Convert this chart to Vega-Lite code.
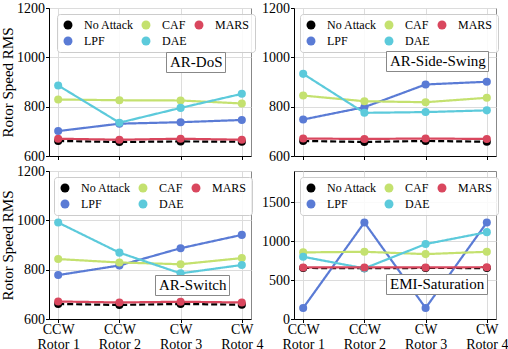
{
  "$schema": "https://vega.github.io/schema/vega-lite/v6.json",
  "padding": {"left": 0, "top": 0, "right": 0, "bottom": 0},
  "config": {
    "font": "Liberation Serif, Times New Roman, serif",
    "view": {"stroke": "#888888", "strokeWidth": 1},
    "axis": {"labelFont": "Liberation Serif, Times New Roman, serif", "titleFont": "Liberation Serif, Times New Roman, serif", "domainColor": "#000000", "tickColor": "#000000", "gridColor": "#dcdcdc", "gridWidth": 1, "labelFontSize": 14, "labelColor": "#000000", "titleFontSize": 15, "titleFontWeight": "normal", "titleColor": "#000000", "tickSize": 3.5, "labelPadding": 1, "titlePadding": 1},
    "legend": {"labelFont": "Liberation Serif, Times New Roman, serif", "titleFont": "Liberation Serif, Times New Roman, serif"}
  },
  "data": {"values": [
    {"panel": "AR-DoS", "rotor": "CCW Rotor 1", "series": "No Attack", "rms": 661},
    {"panel": "AR-DoS", "rotor": "CCW Rotor 2", "series": "No Attack", "rms": 657},
    {"panel": "AR-DoS", "rotor": "CW Rotor 3", "series": "No Attack", "rms": 659},
    {"panel": "AR-DoS", "rotor": "CW Rotor 4", "series": "No Attack", "rms": 658},
    {"panel": "AR-DoS", "rotor": "CCW Rotor 1", "series": "LPF", "rms": 701},
    {"panel": "AR-DoS", "rotor": "CCW Rotor 2", "series": "LPF", "rms": 731},
    {"panel": "AR-DoS", "rotor": "CW Rotor 3", "series": "LPF", "rms": 737},
    {"panel": "AR-DoS", "rotor": "CW Rotor 4", "series": "LPF", "rms": 746},
    {"panel": "AR-DoS", "rotor": "CCW Rotor 1", "series": "CAF", "rms": 829},
    {"panel": "AR-DoS", "rotor": "CCW Rotor 2", "series": "CAF", "rms": 826},
    {"panel": "AR-DoS", "rotor": "CW Rotor 3", "series": "CAF", "rms": 825},
    {"panel": "AR-DoS", "rotor": "CW Rotor 4", "series": "CAF", "rms": 813},
    {"panel": "AR-DoS", "rotor": "CCW Rotor 1", "series": "DAE", "rms": 886},
    {"panel": "AR-DoS", "rotor": "CCW Rotor 2", "series": "DAE", "rms": 735},
    {"panel": "AR-DoS", "rotor": "CW Rotor 3", "series": "DAE", "rms": 795},
    {"panel": "AR-DoS", "rotor": "CW Rotor 4", "series": "DAE", "rms": 852},
    {"panel": "AR-DoS", "rotor": "CCW Rotor 1", "series": "MARS", "rms": 670},
    {"panel": "AR-DoS", "rotor": "CCW Rotor 2", "series": "MARS", "rms": 666},
    {"panel": "AR-DoS", "rotor": "CW Rotor 3", "series": "MARS", "rms": 670},
    {"panel": "AR-DoS", "rotor": "CW Rotor 4", "series": "MARS", "rms": 666},

    {"panel": "AR-Side-Swing", "rotor": "CCW Rotor 1", "series": "No Attack", "rms": 661},
    {"panel": "AR-Side-Swing", "rotor": "CCW Rotor 2", "series": "No Attack", "rms": 657},
    {"panel": "AR-Side-Swing", "rotor": "CW Rotor 3", "series": "No Attack", "rms": 661},
    {"panel": "AR-Side-Swing", "rotor": "CW Rotor 4", "series": "No Attack", "rms": 658},
    {"panel": "AR-Side-Swing", "rotor": "CCW Rotor 1", "series": "LPF", "rms": 748},
    {"panel": "AR-Side-Swing", "rotor": "CCW Rotor 2", "series": "LPF", "rms": 798},
    {"panel": "AR-Side-Swing", "rotor": "CW Rotor 3", "series": "LPF", "rms": 890},
    {"panel": "AR-Side-Swing", "rotor": "CW Rotor 4", "series": "LPF", "rms": 901},
    {"panel": "AR-Side-Swing", "rotor": "CCW Rotor 1", "series": "CAF", "rms": 845},
    {"panel": "AR-Side-Swing", "rotor": "CCW Rotor 2", "series": "CAF", "rms": 822},
    {"panel": "AR-Side-Swing", "rotor": "CW Rotor 3", "series": "CAF", "rms": 818},
    {"panel": "AR-Side-Swing", "rotor": "CW Rotor 4", "series": "CAF", "rms": 836},
    {"panel": "AR-Side-Swing", "rotor": "CCW Rotor 1", "series": "DAE", "rms": 933},
    {"panel": "AR-Side-Swing", "rotor": "CCW Rotor 2", "series": "DAE", "rms": 775},
    {"panel": "AR-Side-Swing", "rotor": "CW Rotor 3", "series": "DAE", "rms": 778},
    {"panel": "AR-Side-Swing", "rotor": "CW Rotor 4", "series": "DAE", "rms": 785},
    {"panel": "AR-Side-Swing", "rotor": "CCW Rotor 1", "series": "MARS", "rms": 671},
    {"panel": "AR-Side-Swing", "rotor": "CCW Rotor 2", "series": "MARS", "rms": 669},
    {"panel": "AR-Side-Swing", "rotor": "CW Rotor 3", "series": "MARS", "rms": 671},
    {"panel": "AR-Side-Swing", "rotor": "CW Rotor 4", "series": "MARS", "rms": 669},

    {"panel": "AR-Switch", "rotor": "CCW Rotor 1", "series": "No Attack", "rms": 661},
    {"panel": "AR-Switch", "rotor": "CCW Rotor 2", "series": "No Attack", "rms": 657},
    {"panel": "AR-Switch", "rotor": "CW Rotor 3", "series": "No Attack", "rms": 661},
    {"panel": "AR-Switch", "rotor": "CW Rotor 4", "series": "No Attack", "rms": 658},
    {"panel": "AR-Switch", "rotor": "CCW Rotor 1", "series": "LPF", "rms": 778},
    {"panel": "AR-Switch", "rotor": "CCW Rotor 2", "series": "LPF", "rms": 817},
    {"panel": "AR-Switch", "rotor": "CW Rotor 3", "series": "LPF", "rms": 887},
    {"panel": "AR-Switch", "rotor": "CW Rotor 4", "series": "LPF", "rms": 941},
    {"panel": "AR-Switch", "rotor": "CCW Rotor 1", "series": "CAF", "rms": 843},
    {"panel": "AR-Switch", "rotor": "CCW Rotor 2", "series": "CAF", "rms": 829},
    {"panel": "AR-Switch", "rotor": "CW Rotor 3", "series": "CAF", "rms": 822},
    {"panel": "AR-Switch", "rotor": "CW Rotor 4", "series": "CAF", "rms": 847},
    {"panel": "AR-Switch", "rotor": "CCW Rotor 1", "series": "DAE", "rms": 991},
    {"panel": "AR-Switch", "rotor": "CCW Rotor 2", "series": "DAE", "rms": 869},
    {"panel": "AR-Switch", "rotor": "CW Rotor 3", "series": "DAE", "rms": 785},
    {"panel": "AR-Switch", "rotor": "CW Rotor 4", "series": "DAE", "rms": 819},
    {"panel": "AR-Switch", "rotor": "CCW Rotor 1", "series": "MARS", "rms": 671},
    {"panel": "AR-Switch", "rotor": "CCW Rotor 2", "series": "MARS", "rms": 667},
    {"panel": "AR-Switch", "rotor": "CW Rotor 3", "series": "MARS", "rms": 670},
    {"panel": "AR-Switch", "rotor": "CW Rotor 4", "series": "MARS", "rms": 667},

    {"panel": "EMI-Saturation", "rotor": "CCW Rotor 1", "series": "No Attack", "rms": 655},
    {"panel": "EMI-Saturation", "rotor": "CCW Rotor 2", "series": "No Attack", "rms": 652},
    {"panel": "EMI-Saturation", "rotor": "CW Rotor 3", "series": "No Attack", "rms": 655},
    {"panel": "EMI-Saturation", "rotor": "CW Rotor 4", "series": "No Attack", "rms": 654},
    {"panel": "EMI-Saturation", "rotor": "CCW Rotor 1", "series": "LPF", "rms": 141},
    {"panel": "EMI-Saturation", "rotor": "CCW Rotor 2", "series": "LPF", "rms": 1239},
    {"panel": "EMI-Saturation", "rotor": "CW Rotor 3", "series": "LPF", "rms": 141},
    {"panel": "EMI-Saturation", "rotor": "CW Rotor 4", "series": "LPF", "rms": 1239},
    {"panel": "EMI-Saturation", "rotor": "CCW Rotor 1", "series": "CAF", "rms": 855},
    {"panel": "EMI-Saturation", "rotor": "CCW Rotor 2", "series": "CAF", "rms": 863},
    {"panel": "EMI-Saturation", "rotor": "CW Rotor 3", "series": "CAF", "rms": 833},
    {"panel": "EMI-Saturation", "rotor": "CW Rotor 4", "series": "CAF", "rms": 863},
    {"panel": "EMI-Saturation", "rotor": "CCW Rotor 1", "series": "DAE", "rms": 799},
    {"panel": "EMI-Saturation", "rotor": "CCW Rotor 2", "series": "DAE", "rms": 650},
    {"panel": "EMI-Saturation", "rotor": "CW Rotor 3", "series": "DAE", "rms": 962},
    {"panel": "EMI-Saturation", "rotor": "CW Rotor 4", "series": "DAE", "rms": 1115},
    {"panel": "EMI-Saturation", "rotor": "CCW Rotor 1", "series": "MARS", "rms": 662},
    {"panel": "EMI-Saturation", "rotor": "CCW Rotor 2", "series": "MARS", "rms": 662},
    {"panel": "EMI-Saturation", "rotor": "CW Rotor 3", "series": "MARS", "rms": 662},
    {"panel": "EMI-Saturation", "rotor": "CW Rotor 4", "series": "MARS", "rms": 665}
  ]},
  "columns": 2,
  "bounds": "flush",
  "spacing": {"row": 15, "column": 43},
  "resolve": {
    "scale": {"x": "independent", "y": "independent", "color": "independent", "stroke": "independent", "strokeDash": "independent", "shape": "independent"},
    "legend": {"color": "independent", "shape": "independent"}
  },
  "concat": [
    {
      "width": 202, "height": 148,
      "transform": [{"filter": "datum.panel === 'AR-DoS'"}],
      "encoding": {
        "x": {"field": "rotor", "type": "ordinal", "scale": {"type": "point", "padding": 0.15, "domain": ["CCW Rotor 1", "CCW Rotor 2", "CW Rotor 3", "CW Rotor 4"]}, "axis": {"title": null, "labels": false, "grid": true}},
        "y": {"field": "rms", "type": "quantitative", "scale": {"domain": [600, 1200], "nice": false, "zero": false}, "axis": {"title": "Rotor Speed RMS", "values": [600, 800, 1000, 1200], "format": "d", "grid": true}}
      },
      "layer": [
        {"mark": {"type": "line", "strokeWidth": 2.2}, "encoding": {
          "stroke": {"field": "series", "type": "nominal", "scale": {"domain": ["MARS", "DAE", "CAF", "LPF", "No Attack"], "range": ["#d9475e", "#5ccadb", "#c4e16f", "#5a7bd5", "#000000"]}, "legend": null},
          "strokeDash": {"field": "series", "type": "nominal", "scale": {"domain": ["MARS", "DAE", "CAF", "LPF", "No Attack"], "range": [[1, 0], [1, 0], [1, 0], [1, 0], [6, 3]]}, "legend": null}}},
        {"mark": {"type": "point", "filled": true, "size": 65, "opacity": 1}, "encoding": {"color": {"field": "series", "type": "nominal", "scale": {"domain": ["No Attack", "LPF", "CAF", "DAE", "MARS"], "range": ["#000000", "#5a7bd5", "#c4e16f", "#5ccadb", "#d9475e"]}, "legend": {"title": null, "orient": "none", "legendX": 8, "legendY": 6, "columns": 3, "symbolType": "circle", "symbolSize": 80, "symbolStrokeWidth": 0, "labelFontSize": 12, "labelColor": "#000000", "labelOffset": 10, "columnPadding": 6, "rowPadding": 4, "padding": 5, "strokeColor": "#cccccc", "fillColor": "rgba(255,255,255,0.85)", "cornerRadius": 3}}}},
        {"mark": {"type": "point", "opacity": 0}, "encoding": {"shape": {"field": "panel", "type": "nominal", "legend": {"title": null, "orient": "none", "legendX": 117, "legendY": 44, "symbolSize": 1, "symbolOpacity": 0, "symbolStrokeWidth": 0, "labelOffset": -13, "labelFontSize": 15, "labelColor": "#000000", "padding": 2, "strokeColor": "#888888", "fillColor": "#ffffff", "cornerRadius": 0}}}}
      ]
    },
    {
      "width": 202, "height": 148,
      "transform": [{"filter": "datum.panel === 'AR-Side-Swing'"}],
      "encoding": {
        "x": {"field": "rotor", "type": "ordinal", "scale": {"type": "point", "padding": 0.15, "domain": ["CCW Rotor 1", "CCW Rotor 2", "CW Rotor 3", "CW Rotor 4"]}, "axis": {"title": null, "labels": false, "grid": true}},
        "y": {"field": "rms", "type": "quantitative", "scale": {"domain": [600, 1200], "nice": false, "zero": false}, "axis": {"title": null, "values": [600, 800, 1000, 1200], "format": "d", "grid": true}}
      },
      "layer": [
        {"mark": {"type": "line", "strokeWidth": 2.2}, "encoding": {
          "stroke": {"field": "series", "type": "nominal", "scale": {"domain": ["MARS", "DAE", "CAF", "LPF", "No Attack"], "range": ["#d9475e", "#5ccadb", "#c4e16f", "#5a7bd5", "#000000"]}, "legend": null},
          "strokeDash": {"field": "series", "type": "nominal", "scale": {"domain": ["MARS", "DAE", "CAF", "LPF", "No Attack"], "range": [[1, 0], [1, 0], [1, 0], [1, 0], [6, 3]]}, "legend": null}}},
        {"mark": {"type": "point", "filled": true, "size": 65, "opacity": 1}, "encoding": {"color": {"field": "series", "type": "nominal", "scale": {"domain": ["No Attack", "LPF", "CAF", "DAE", "MARS"], "range": ["#000000", "#5a7bd5", "#c4e16f", "#5ccadb", "#d9475e"]}, "legend": {"title": null, "orient": "none", "legendX": 6, "legendY": 6, "columns": 3, "symbolType": "circle", "symbolSize": 80, "symbolStrokeWidth": 0, "labelFontSize": 12, "labelColor": "#000000", "labelOffset": 10, "columnPadding": 6, "rowPadding": 4, "padding": 5, "strokeColor": "#cccccc", "fillColor": "rgba(255,255,255,0.85)", "cornerRadius": 3}}}},
        {"mark": {"type": "point", "opacity": 0}, "encoding": {"shape": {"field": "panel", "type": "nominal", "legend": {"title": null, "orient": "none", "legendX": 92, "legendY": 43, "symbolSize": 1, "symbolOpacity": 0, "symbolStrokeWidth": 0, "labelOffset": -13, "labelFontSize": 15, "labelColor": "#000000", "padding": 2, "strokeColor": "#888888", "fillColor": "#ffffff", "cornerRadius": 0}}}}
      ]
    },
    {
      "width": 202, "height": 148,
      "transform": [{"filter": "datum.panel === 'AR-Switch'"}],
      "encoding": {
        "x": {"field": "rotor", "type": "ordinal", "scale": {"type": "point", "padding": 0.15, "domain": ["CCW Rotor 1", "CCW Rotor 2", "CW Rotor 3", "CW Rotor 4"]}, "axis": {"title": null, "grid": true, "labelAngle": 0, "labelLineHeight": 14.5, "labelBaseline": "top", "labelPadding": 0, "labelExpr": "[slice(datum.label, 0, indexof(datum.label, ' ')), slice(datum.label, indexof(datum.label, ' ') + 1)]"}},
        "y": {"field": "rms", "type": "quantitative", "scale": {"domain": [600, 1200], "nice": false, "zero": false}, "axis": {"title": "Rotor Speed RMS", "values": [600, 800, 1000, 1200], "format": "d", "grid": true}}
      },
      "layer": [
        {"mark": {"type": "line", "strokeWidth": 2.2}, "encoding": {
          "stroke": {"field": "series", "type": "nominal", "scale": {"domain": ["MARS", "DAE", "CAF", "LPF", "No Attack"], "range": ["#d9475e", "#5ccadb", "#c4e16f", "#5a7bd5", "#000000"]}, "legend": null},
          "strokeDash": {"field": "series", "type": "nominal", "scale": {"domain": ["MARS", "DAE", "CAF", "LPF", "No Attack"], "range": [[1, 0], [1, 0], [1, 0], [1, 0], [6, 3]]}, "legend": null}}},
        {"mark": {"type": "point", "filled": true, "size": 65, "opacity": 1}, "encoding": {"color": {"field": "series", "type": "nominal", "scale": {"domain": ["No Attack", "LPF", "CAF", "DAE", "MARS"], "range": ["#000000", "#5a7bd5", "#c4e16f", "#5ccadb", "#d9475e"]}, "legend": {"title": null, "orient": "none", "legendX": 5, "legendY": 6, "columns": 3, "symbolType": "circle", "symbolSize": 80, "symbolStrokeWidth": 0, "labelFontSize": 12, "labelColor": "#000000", "labelOffset": 10, "columnPadding": 6, "rowPadding": 4, "padding": 5, "strokeColor": "#cccccc", "fillColor": "rgba(255,255,255,0.85)", "cornerRadius": 3}}}},
        {"mark": {"type": "point", "opacity": 0}, "encoding": {"shape": {"field": "panel", "type": "nominal", "legend": {"title": null, "orient": "none", "legendX": 106, "legendY": 104, "symbolSize": 1, "symbolOpacity": 0, "symbolStrokeWidth": 0, "labelOffset": -13, "labelFontSize": 15, "labelColor": "#000000", "padding": 2, "strokeColor": "#888888", "fillColor": "#ffffff", "cornerRadius": 0}}}}
      ]
    },
    {
      "width": 202, "height": 148,
      "transform": [{"filter": "datum.panel === 'EMI-Saturation'"}],
      "encoding": {
        "x": {"field": "rotor", "type": "ordinal", "scale": {"type": "point", "padding": 0.15, "domain": ["CCW Rotor 1", "CCW Rotor 2", "CW Rotor 3", "CW Rotor 4"]}, "axis": {"title": null, "grid": true, "labelAngle": 0, "labelLineHeight": 14.5, "labelBaseline": "top", "labelPadding": 0, "labelExpr": "[slice(datum.label, 0, indexof(datum.label, ' ')), slice(datum.label, indexof(datum.label, ' ') + 1)]"}},
        "y": {"field": "rms", "type": "quantitative", "scale": {"domain": [0, 1900], "nice": false, "zero": false}, "axis": {"title": null, "values": [0, 500, 1000, 1500], "format": "d", "grid": true}}
      },
      "layer": [
        {"mark": {"type": "line", "strokeWidth": 2.2}, "encoding": {
          "stroke": {"field": "series", "type": "nominal", "scale": {"domain": ["MARS", "DAE", "CAF", "LPF", "No Attack"], "range": ["#d9475e", "#5ccadb", "#c4e16f", "#5a7bd5", "#000000"]}, "legend": null},
          "strokeDash": {"field": "series", "type": "nominal", "scale": {"domain": ["MARS", "DAE", "CAF", "LPF", "No Attack"], "range": [[1, 0], [1, 0], [1, 0], [1, 0], [6, 3]]}, "legend": null}}},
        {"mark": {"type": "point", "filled": true, "size": 65, "opacity": 1}, "encoding": {"color": {"field": "series", "type": "nominal", "scale": {"domain": ["No Attack", "LPF", "CAF", "DAE", "MARS"], "range": ["#000000", "#5a7bd5", "#c4e16f", "#5ccadb", "#d9475e"]}, "legend": {"title": null, "orient": "none", "legendX": 6, "legendY": 6, "columns": 3, "symbolType": "circle", "symbolSize": 80, "symbolStrokeWidth": 0, "labelFontSize": 12, "labelColor": "#000000", "labelOffset": 10, "columnPadding": 6, "rowPadding": 4, "padding": 5, "strokeColor": "#cccccc", "fillColor": "rgba(255,255,255,0.85)", "cornerRadius": 3}}}},
        {"mark": {"type": "point", "opacity": 0}, "encoding": {"shape": {"field": "panel", "type": "nominal", "legend": {"title": null, "orient": "none", "legendX": 92, "legendY": 103, "symbolSize": 1, "symbolOpacity": 0, "symbolStrokeWidth": 0, "labelOffset": -13, "labelFontSize": 15, "labelColor": "#000000", "padding": 2, "strokeColor": "#888888", "fillColor": "#ffffff", "cornerRadius": 0}}}}
      ]
    }
  ]
}
